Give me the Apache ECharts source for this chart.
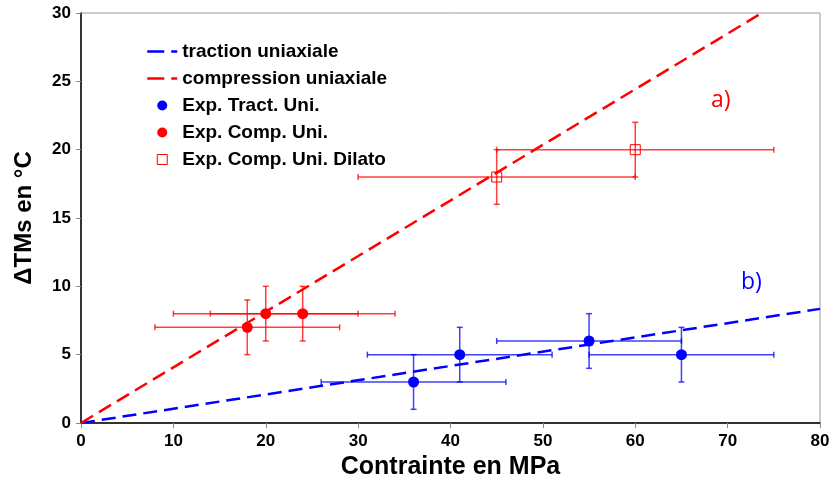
<html>
<head>
<meta charset="UTF-8">
<title>Delta TMs</title>
<script src="https://cdn.jsdelivr.net/npm/echarts@6/dist/echarts.min.js"></script>
<style>
  body { margin: 0; background: #fff; }
  #chart { width: 833px; height: 492px; }
</style>
</head>
<body>
<div id="chart"></div>
<script>
// modele lineaire (deux points par droite)
var tractionLine = [[0, 0], [80, 8.35]];
var compressionLine = [[0, 0], [73.7, 30]];

// points experimentaux : [x, y, xmin, xmax, ymin, ymax]
var expTract = [
  [36, 3, 26, 46, 1, 5],
  [41, 5, 31, 51, 3, 7],
  [55, 6, 45, 65, 4, 8],
  [65, 5, 55, 75, 3, 7]
];
var expComp = [
  [18, 7, 8, 28, 5, 9],
  [20, 8, 10, 30, 6, 10],
  [24, 8, 14, 34, 6, 10]
];
var expDilato = [
  [45, 18, 30, 60, 16, 20],
  [60, 20, 45, 75, 18, 22]
];

var BLUE = '#0000ff';
var RED = '#ff0000';

function errorBars(color) {
  return function (params, api) {
    var x = api.value(0), y = api.value(1);
    var pl = api.coord([api.value(2), y]);
    var pr = api.coord([api.value(3), y]);
    var pb = api.coord([x, api.value(4)]);
    var pt = api.coord([x, api.value(5)]);
    var c = 3;
    var style = { stroke: color, lineWidth: 1.5, opacity: 0.75 };
    var segs = [
      [pl, pr],
      [[pl[0], pl[1] - c], [pl[0], pl[1] + c]],
      [[pr[0], pr[1] - c], [pr[0], pr[1] + c]],
      [pb, pt],
      [[pb[0] - c, pb[1]], [pb[0] + c, pb[1]]],
      [[pt[0] - c, pt[1]], [pt[0] + c, pt[1]]]
    ];
    return {
      type: 'group',
      children: segs.map(function (s) {
        return { type: 'line', shape: { x1: s[0][0], y1: s[0][1], x2: s[1][0], y2: s[1][1] }, style: style };
      })
    };
  };
}

var chart = echarts.init(document.getElementById('chart'));
var font = 'Liberation Sans, Arial, sans-serif';

chart.setOption({
  animation: false,
  textStyle: { fontFamily: font },
  grid: { left: 81, right: 13, top: 13, bottom: 69, show: true, borderColor: '#999', borderWidth: 1 },
  xAxis: {
    type: 'value', min: 0, max: 80, interval: 10,
    name: 'Contrainte en MPa', nameLocation: 'middle', nameGap: 31,
    nameTextStyle: { fontSize: 25, fontWeight: 'bold', color: '#000' },
    axisLine: { lineStyle: { color: '#000', width: 1.5 } },
    axisTick: { show: true, length: 5, lineStyle: { color: '#888' } },
    axisLabel: { fontSize: 17, fontWeight: 'bold', color: '#000', margin: 10 },
    splitLine: { show: false }
  },
  yAxis: {
    type: 'value', min: 0, max: 30, interval: 5,
    name: 'ΔTMs en °C', nameLocation: 'middle', nameGap: 45,
    nameTextStyle: { fontSize: 24, fontWeight: 'bold', color: '#000' },
    axisLine: { show: true, lineStyle: { color: '#000', width: 1.5 } },
    axisTick: { show: true, length: 5, lineStyle: { color: '#888' } },
    axisLabel: { fontSize: 17, fontWeight: 'bold', color: '#000', margin: 10 },
    splitLine: { show: false }
  },
  legend: {
    orient: 'vertical', left: 141, top: 37, itemGap: 8,
    itemWidth: 30, itemHeight: 10,
    lineStyle: { type: [17, 7], width: 2.5 },
    textStyle: { fontSize: 19, fontWeight: 'bold', color: '#000', fontFamily: font },
    data: [
      { name: 'traction uniaxiale', itemStyle: { opacity: 0 } },
      { name: 'compression uniaxiale', itemStyle: { opacity: 0 } },
      { name: 'Exp. Tract. Uni.', icon: 'circle', itemStyle: { color: BLUE } },
      { name: 'Exp. Comp. Uni.', icon: 'circle', itemStyle: { color: RED } },
      { name: 'Exp. Comp. Uni. Dilato', icon: 'path://M0,0H10V10H0Z', itemStyle: { color: '#fff', borderColor: RED, borderWidth: 1 } }
    ]
  },
  graphic: [
    { type: 'text', left: 711, top: 89, style: { text: 'a)', fill: RED, fontSize: 23, fontFamily: 'Open Sans, sans-serif' } },
    { type: 'text', left: 741, top: 271, style: { text: 'b)', fill: BLUE, fontSize: 23, fontFamily: 'Open Sans, sans-serif' } }
  ],
  series: [
    {
      name: 'traction uniaxiale', type: 'line', data: tractionLine, symbol: 'none',
      lineStyle: { color: BLUE, width: 2.5, type: [14, 7] }, itemStyle: { color: BLUE }, z: 3
    },
    {
      name: 'compression uniaxiale', type: 'line', data: compressionLine, symbol: 'none',
      lineStyle: { color: RED, width: 2.5, type: [14, 7] }, itemStyle: { color: RED }, z: 3
    },
    { name: 'errTract', type: 'custom', renderItem: errorBars(BLUE), data: expTract, z: 2 },
    { name: 'errComp', type: 'custom', renderItem: errorBars(RED), data: expComp, z: 2 },
    { name: 'errDilato', type: 'custom', renderItem: errorBars(RED), data: expDilato, z: 2 },
    {
      name: 'Exp. Tract. Uni.', type: 'scatter', symbol: 'circle', symbolSize: 11,
      data: expTract.map(function (d) { return [d[0], d[1]]; }),
      itemStyle: { color: BLUE, opacity: 1 }, z: 4
    },
    {
      name: 'Exp. Comp. Uni.', type: 'scatter', symbol: 'circle', symbolSize: 11,
      data: expComp.map(function (d) { return [d[0], d[1]]; }),
      itemStyle: { color: RED, opacity: 1 }, z: 4
    },
    {
      name: 'Exp. Comp. Uni. Dilato', type: 'scatter', symbol: 'rect', symbolSize: 10,
      data: expDilato.map(function (d) { return [d[0], d[1]]; }),
      itemStyle: { color: 'rgba(255,255,255,0)', borderColor: RED, borderWidth: 1, opacity: 1 }, z: 4
    }
  ]
});
</script>
</body>
</html>
